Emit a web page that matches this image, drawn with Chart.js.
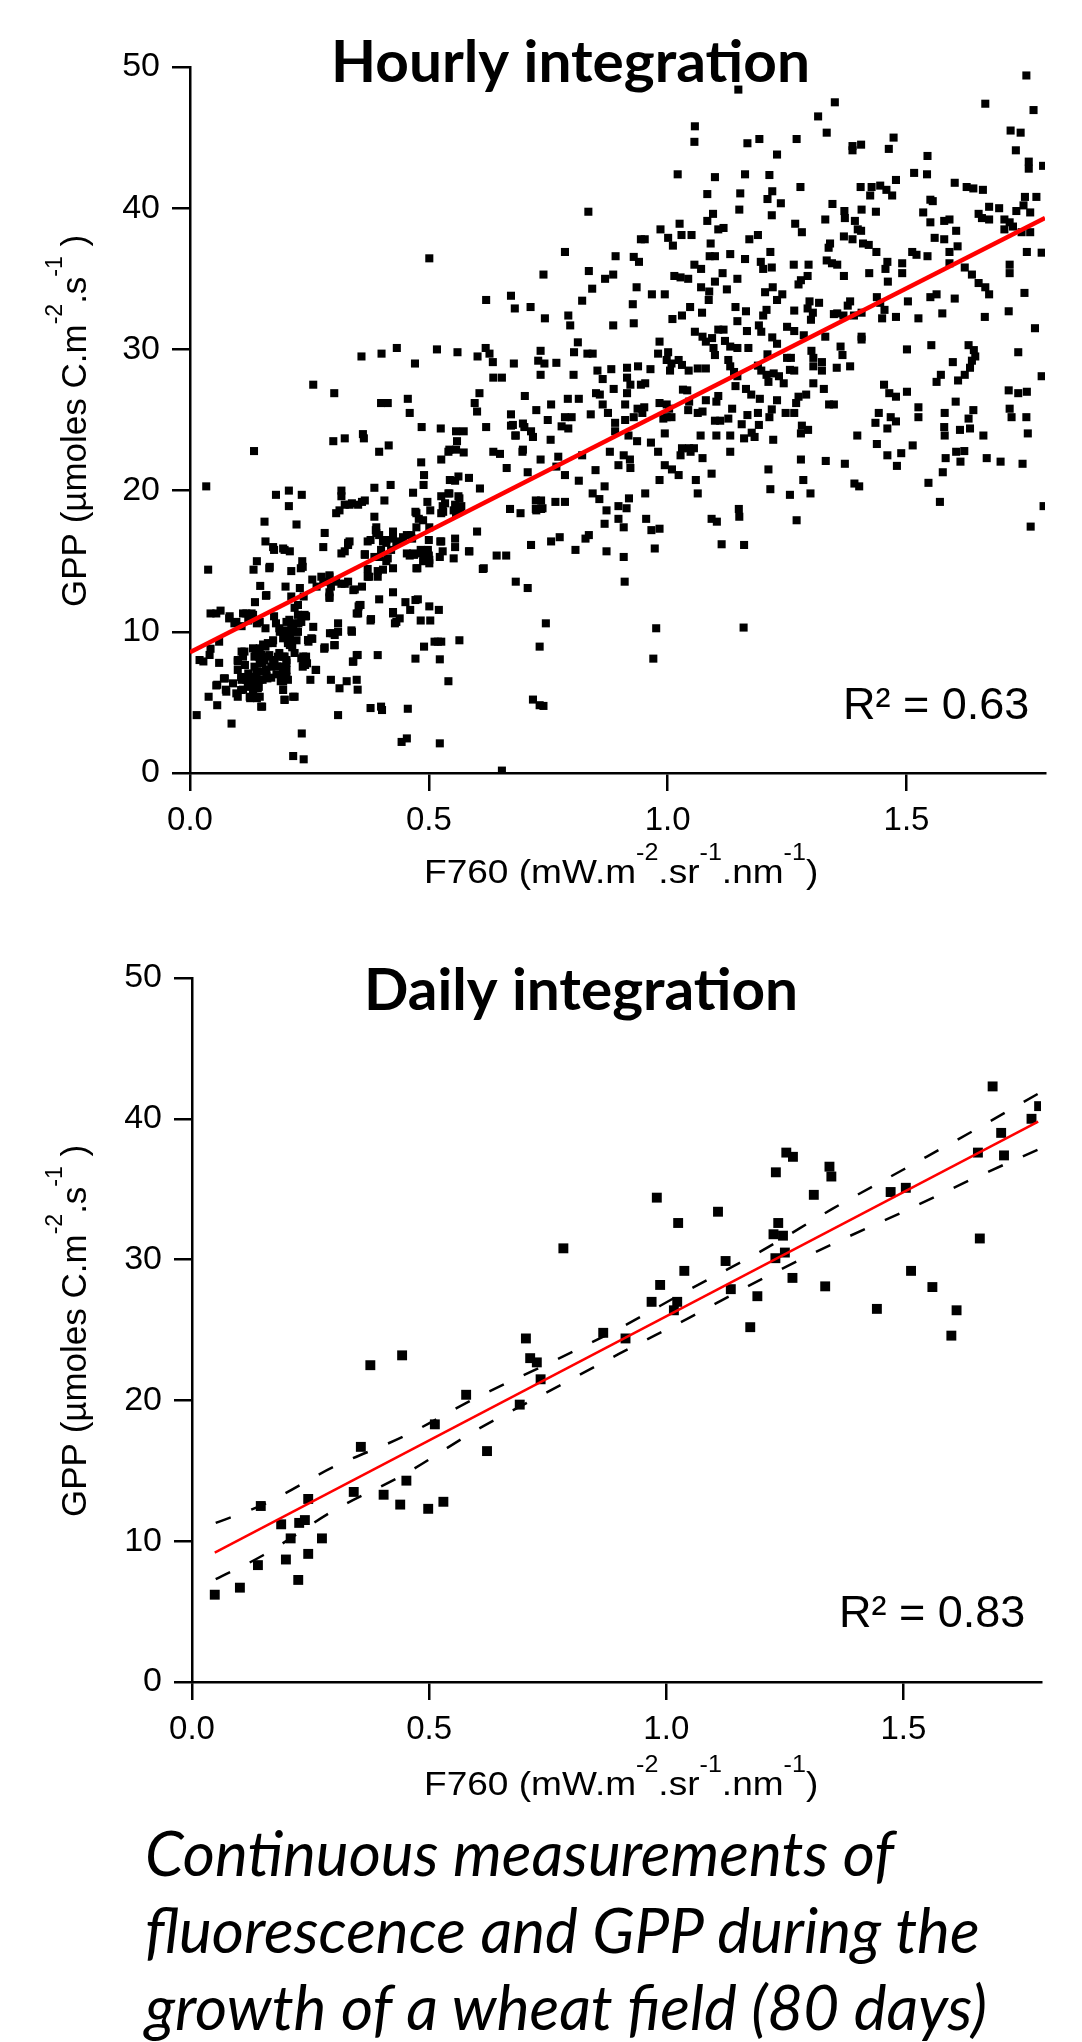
<!DOCTYPE html>
<html>
<head>
<meta charset="utf-8">
<script src="https://cdn.jsdelivr.net/npm/chart.js@4.4.1/dist/chart.umd.min.js"></script>
<style>
  body { margin: 0; background: #fff; width: 1082px; height: 2042px; position: relative; overflow: hidden; }
  canvas { position: absolute; left: 0; }
  #hourly { top: 0; }
  #daily { top: 900px; }
  #caption { position: absolute; left: 145px; top: 1814px; font-family: Lato, sans-serif; font-style: italic;
             font-size: 62px; line-height: 77px; color: #000; white-space: nowrap; }
</style>
</head>
<body>
<canvas id="hourly" width="1082" height="900"></canvas>
<canvas id="daily" width="1082" height="920"></canvas>
<div id="caption">Continuous measurements of<br>fluorescence and GPP during the<br>growth of a wheat field (80 days)</div>
<script>
// axes
const xTickValues = [0, 0.5, 1.0, 1.5];
const yTickValues = [0, 10, 20, 30, 40, 50];
const xMax = 1.79;

// hourly integration : [F760, GPP]
const hourlyPoints = [
  [0.501,36.45],[0.620,33.5],[0.672,33.8],[0.680,32.9],[0.713,33.0],[0.359,29.5],[0.401,29.7],[0.433,30.1],[0.471,29.0],[0.517,30.0],
  [0.560,29.8],[0.602,29.5],[0.619,30.1],[0.627,29.7],[0.634,29.1],[0.678,29.0],[0.729,29.2],[0.258,27.5],[0.302,26.9],[0.400,26.2],
  [0.414,26.2],[0.456,26.5],[0.460,25.5],[0.606,26.9],[0.596,26.2],[0.601,25.6],[0.635,28.0],[0.653,28.0],[0.701,26.7],[0.725,25.7],
  [0.672,25.4],[0.485,24.5],[0.525,24.4],[0.557,24.2],[0.573,24.2],[0.620,24.5],[0.672,24.6],[0.682,23.9],[0.700,24.5],[0.714,24.2],
  [0.300,23.5],[0.324,23.7],[0.362,24.0],[0.364,23.7],[0.416,23.2],[0.559,23.5],[0.134,22.8],
  [1.148,48.4],[1.751,49.4],[1.665,47.4],[1.350,47.5],[1.766,46.95],[1.315,46.5],[1.333,45.35],[1.057,45.8],[1.056,44.7],[1.718,45.5],
  [1.739,45.35],[1.729,44.1],[1.756,43.3],[1.756,42.8],[1.786,43.0],[1.167,44.6],[1.192,44.9],[1.270,44.9],[1.229,43.8],[1.387,44.4],
  [1.405,44.5],[1.387,44.1],[1.473,45.0],[1.463,44.2],[1.544,43.7],[1.516,42.5],[1.543,42.4],[1.601,41.8],[1.626,41.5],[1.640,41.4],
  [1.660,41.3],[1.748,40.8],[1.772,40.8],[1.478,42.0],[1.404,41.5],[1.427,41.5],[1.445,41.6],[1.458,41.3],[1.470,40.9],[1.424,40.9],
  [1.550,40.6],[1.555,40.5],[1.535,39.7],[1.550,39.0],[1.579,39.1],[1.590,39.2],[1.651,39.6],[1.673,40.1],[1.673,39.2],[1.658,39.3],
  [1.694,40.0],[1.705,39.2],[1.716,39.0],[1.723,38.7],[1.705,38.5],[1.741,38.3],[1.759,38.3],[1.730,39.8],[1.745,40.2],[1.759,39.7],
  [1.752,36.9],[1.783,36.85],[1.716,36.0],[1.716,35.4],[1.747,34.0],[1.714,32.7],[1.769,31.5],[1.734,29.8],[1.783,28.1],[1.714,27.1],
  [1.734,26.9],[1.752,27.0],[1.716,25.8],[1.720,25.2],[1.751,25.2],[1.754,24.05],[1.661,23.9],[1.633,24.4],[1.612,24.3],[1.579,24.5],
  [1.580,23.9],[1.640,25.7],[1.630,25.1],[1.603,26.3],[1.580,25.5],[1.525,25.9],[1.525,25.2],[1.513,23.2],[1.438,23.3],[1.397,23.9],
  [1.442,25.5],[1.467,25.2],[1.478,24.9],[1.435,24.8],[1.460,24.4],[1.453,27.5],[1.464,26.9],[1.478,26.65],[1.501,27.0],[1.563,27.7],
  [1.572,28.2],[1.597,29.1],[1.608,27.8],[1.622,28.2],[1.633,28.7],[1.630,30.3],[1.641,29.95],[1.644,29.5],[1.637,29.2],[1.552,30.3],
  [1.501,30.0],[1.525,32.2],[1.575,32.55],[1.664,32.3],[1.601,33.6],[1.550,33.7],[1.563,33.9],[1.503,33.4],[1.637,35.3],[1.622,35.8],
  [1.651,34.7],[1.665,34.4],[1.673,33.9],[1.607,37.3],[1.590,36.9],[1.590,36.1],[1.544,36.6],[1.512,36.9],[1.521,36.7],[1.559,37.9],
  [1.579,37.8],[1.491,36.1],[1.491,35.4],[1.604,38.4],[1.437,36.9],[1.460,36.2],[1.456,35.7],[1.461,34.8],[1.422,35.4],[1.438,33.7],
  [1.445,33.3],[1.454,32.8],[1.449,32.2],[1.478,32.3],[1.398,38.5],[1.409,37.5],[1.421,37.4],[1.387,37.8],[1.405,38.4],[1.369,38.0],
  [1.337,37.2],[1.340,37.5],[1.333,36.3],[1.344,36.1],[1.355,36.0],[1.369,35.2],[1.330,39.2],[1.345,40.3],[1.370,39.8],[1.371,39.3],
  [1.392,39.1],[1.406,39.9],[1.436,39.75],[1.406,32.6],[1.382,33.4],[1.377,33.1],[1.368,32.4],[1.348,32.5],[1.355,32.55],[1.390,32.4],
  [1.406,30.9],[1.406,30.7],[1.362,30.2],[1.366,29.6],[1.382,28.8],[1.354,28.7],[1.297,33.4],[1.293,32.9],[1.317,33.3],[1.304,32.6],
  [1.300,32.1],[1.265,32.75],[1.279,34.9],[1.274,34.6],[1.293,35.2],[1.264,36.0],[1.295,36.0],[1.267,38.9],[1.281,38.3],[1.278,41.5],
  [1.219,41.2],[1.209,40.65],[1.237,40.35],[1.218,39.5],[1.152,41.05],[1.150,39.9],[1.162,42.4],[1.213,42.35],[1.099,42.2],[1.083,41.0],
  [1.095,39.6],[1.083,39.1],[1.106,38.5],[1.117,38.6],[1.021,42.4],[1.025,38.9],[1.029,38.1],[1.050,38.1],[0.985,38.5],[1.001,37.9],
  [1.011,37.35],[0.944,37.8],[0.952,37.8],[0.834,39.75],[0.785,36.9],[0.891,36.6],[0.929,36.55],[0.940,36.2],[1.090,37.5],[1.088,36.6],
  [1.099,36.6],[1.056,36.0],[1.070,35.7],[1.131,36.75],[1.162,36.4],[1.171,37.8],[1.189,38.1],[1.215,36.9],[1.195,36.2],[1.200,35.7],
  [1.218,35.8],[0.740,35.3],[0.835,35.55],[0.869,35.0],[0.886,35.3],[0.842,34.3],[0.821,33.45],[0.935,34.4],[0.927,33.2],[0.967,33.9],
  [0.994,33.9],[1.014,35.2],[1.027,35.1],[1.043,35.0],[1.099,34.8],[1.115,35.4],[1.146,35.0],[1.070,34.4],[1.087,34.1],[1.086,33.5],
  [1.124,34.25],[1.047,33.0],[1.030,32.4],[1.072,32.6],[1.010,32.15],[0.743,32.2],[0.792,32.4],[0.796,31.7],[0.886,31.7],[0.929,31.85],
  [1.204,34.05],[1.220,34.4],[1.240,33.9],[1.229,33.5],[1.142,33.0],[1.164,32.7],[1.207,32.8],[1.200,32.4],[1.146,32.0],[1.166,31.3],
  [1.191,31.7],[1.196,31.25],[1.219,30.85],[1.229,30.4],[1.250,31.6],[1.265,31.3],[1.285,31.0],[1.330,30.9],[0.734,29.9],[0.742,29.0],
  [0.734,28.2],[0.767,29.05],[0.804,29.8],[0.812,30.5],[0.832,29.7],[0.843,29.7],[0.853,28.5],[0.864,27.9],[0.882,28.6],[0.803,28.2],
  [0.887,27.2],[0.915,28.7],[0.938,28.8],[0.915,28.0],[0.922,27.5],[0.915,26.9],[0.944,27.5],[0.953,27.6],[0.964,28.6],[0.983,30.55],
  [0.980,29.7],[1.001,29.8],[0.998,29.25],[1.008,29.0],[1.023,29.25],[1.030,28.9],[1.044,28.5],[1.005,28.5],[1.057,31.25],[1.073,30.9],
  [1.080,30.55],[1.093,30.8],[1.106,31.4],[1.117,31.4],[1.096,30.1],[1.099,29.6],[1.120,30.6],[1.131,30.2],[1.146,30.1],[1.063,28.65],
  [1.080,28.65],[1.127,29.25],[1.131,28.8],[1.139,28.4],[1.146,28.1],[1.169,30.1],[1.209,29.65],[1.189,28.85],[1.196,28.5],[1.207,28.2],
  [1.222,28.3],[1.233,28.1],[1.243,27.6],[1.211,27.7],[1.142,27.4],[1.164,27.2],[1.175,26.8],[1.256,28.55],[1.265,28.5],[1.250,29.4],
  [1.258,29.4],[1.301,29.9],[1.305,28.8],[1.305,29.4],[1.323,29.1],[1.323,28.5],[1.305,27.6],[1.327,27.2],[1.338,26.1],[1.348,26.1],
  [1.274,26.65],[1.290,26.8],[1.269,26.2],[1.229,26.4],[1.218,25.75],[1.193,26.5],[1.189,25.5],[1.167,25.35],[1.135,25.8],[1.247,25.5],
  [1.265,25.5],[1.213,25.2],[1.155,24.7],[1.176,24.1],[1.191,24.65],[1.182,23.8],[1.221,23.6],[1.281,24.6],[1.294,24.3],[1.279,24.05],
  [1.099,24.95],[1.110,24.95],[1.127,25.1],[1.102,23.9],[1.131,23.9],[1.069,23.9],[0.994,24.05],[0.991,25.1],[0.998,25.2],[1.008,25.2],
  [0.983,26.2],[0.998,26.1],[1.003,25.8],[1.032,27.15],[1.041,27.1],[1.045,26.3],[1.043,25.7],[1.080,26.4],[1.106,26.7],[1.102,26.3],
  [1.063,25.5],[1.073,25.6],[0.951,25.9],[0.947,25.5],[0.929,25.2],[0.911,25.0],[0.890,24.8],[0.890,24.2],[0.911,26.1],[0.937,25.8],
  [0.875,25.5],[0.864,26.1],[0.839,25.4],[0.858,26.8],[0.850,26.9],[0.814,26.5],[0.791,26.5],[0.756,26.1],[0.749,25.0],[0.785,25.2],
  [0.799,25.2],[0.778,24.55],[0.792,24.4],[0.755,23.6],[0.918,23.9],[0.936,23.5],[0.965,23.4],[1.030,23.0],[1.045,23.0],[1.160,23.7],
  [1.055,23.0],
  [0.396,22.75],[0.484,22.0],[0.526,22.2],[0.541,22.75],[0.573,22.7],[0.635,22.75],[0.649,22.6],[0.696,22.75],[0.034,20.3],[0.207,20.0],
  [0.180,19.7],[0.234,19.7],[0.207,18.9],[0.156,17.8],[0.223,17.6],[0.317,20.0],[0.317,19.6],[0.324,19.0],[0.313,18.6],[0.306,18.4],
  [0.339,19.1],[0.360,19.2],[0.386,20.2],[0.420,20.4],[0.407,19.3],[0.386,18.15],[0.490,21.1],[0.489,20.4],[0.467,19.85],[0.472,18.5],
  [0.479,18.0],[0.497,19.2],[0.503,18.6],[0.526,19.6],[0.541,19.8],[0.534,19.1],[0.530,18.5],[0.544,20.75],[0.562,21.0],[0.584,20.9],
  [0.555,20.7],[0.562,19.6],[0.566,18.6],[0.555,19.0],[0.607,20.15],[0.663,21.6],[0.707,21.3],[0.670,18.7],[0.692,18.4],[0.725,18.6],
  [0.601,17.1],[0.585,15.7],[0.613,14.45],[0.642,15.4],[0.662,15.4],[0.682,13.55],[0.707,13.1],[0.714,16.15],[0.282,17.0],[0.279,16.0],
  [0.331,16.15],[0.324,15.7],[0.366,15.45],[0.389,17.2],[0.396,16.85],[0.378,16.5],[0.411,16.5],[0.425,17.1],[0.440,16.4],[0.454,16.85],
  [0.465,16.6],[0.400,15.8],[0.414,15.2],[0.425,14.5],[0.454,15.55],[0.469,15.45],[0.483,15.8],[0.497,15.55],[0.501,15.1],[0.490,15.1],
  [0.476,14.5],[0.526,16.4],[0.523,15.3],[0.552,15.2],[0.555,16.6],[0.555,16.0],[0.552,18.6],[0.158,16.4],[0.176,15.8],[0.198,15.8],
  [0.209,15.7],[0.140,15.0],[0.133,14.4],[0.166,14.5],[0.212,14.3],[0.235,15.0],[0.232,14.5],[0.147,13.25],[0.159,12.55],[0.136,12.1],
  [0.200,13.2],[0.212,12.5],[0.230,13.1],[0.238,12.5],[0.256,13.7],[0.265,13.2],[0.279,13.55],[0.292,13.9],[0.295,13.2],[0.292,12.5],
  [0.306,13.55],[0.324,13.4],[0.342,12.95],[0.360,13.2],[0.375,13.9],[0.393,13.9],[0.396,12.3],[0.425,12.8],[0.451,12.1],[0.472,12.25],
  [0.461,11.55],[0.425,11.3],[0.429,10.6],[0.353,11.8],[0.349,11.3],[0.357,11.9],[0.378,10.8],[0.483,10.8],[0.503,10.8],[0.501,11.8],
  [0.521,11.55],[0.043,11.3],[0.064,11.5],[0.082,10.95],[0.093,10.6],[0.111,11.3],[0.129,11.3],[0.122,10.8],[0.108,10.4],[0.140,10.6],
  [0.158,10.25],[0.176,11.1],[0.180,10.6],[0.187,10.25],[0.195,10.0],[0.202,10.7],[0.212,10.5],[0.227,10.6],[0.223,10.0],[0.241,11.1],
  [0.198,9.65],[0.209,9.5],[0.223,9.4],[0.205,9.2],[0.214,8.9],[0.061,9.3],[0.043,8.8],[0.028,7.9],[0.061,7.8],[0.108,8.6],
  [0.100,7.9],[0.115,7.65],[0.100,7.3],[0.122,7.05],[0.108,6.6],[0.137,8.7],[0.144,8.25],[0.152,7.8],[0.159,7.3],[0.140,7.2],
  [0.133,6.6],[0.152,6.6],[0.162,6.7],[0.144,6.1],[0.166,8.35],[0.177,7.8],[0.187,8.5],[0.183,7.55],[0.198,8.25],[0.202,7.8],
  [0.195,7.2],[0.205,6.6],[0.190,6.5],[0.158,8.95],[0.173,9.2],[0.219,8.5],[0.237,8.0],[0.241,7.65],[0.237,8.25],[0.248,9.3],
  [0.256,9.5],[0.258,10.35],[0.263,7.3],[0.252,6.6],[0.071,6.7],[0.075,5.9],[0.057,6.25],[0.039,5.4],[0.057,4.8],[0.100,5.4],
  [0.111,5.9],[0.126,5.3],[0.140,5.3],[0.151,4.7],[0.198,5.2],[0.216,5.4],[0.014,4.1],[0.087,3.5],[0.295,6.6],[0.313,6.0],
  [0.328,6.5],[0.349,6.6],[0.351,5.9],[0.310,4.1],[0.281,8.8],[0.302,9.05],[0.299,9.9],[0.310,10.6],[0.339,10.0],[0.342,7.9],
  [0.349,8.35],[0.393,8.35],[0.378,4.6],[0.400,4.7],[0.456,4.55],[0.443,2.2],[0.454,2.45],[0.234,2.8],[0.216,1.2],[0.238,0.97],
  [0.523,2.1],[0.653,0.17],[0.541,6.5],[0.490,8.95],[0.512,9.3],[0.526,9.3],[0.523,8.05],[0.472,8.1],[0.564,9.4],[0.732,8.95],
  [0.718,5.2],[0.732,4.8],
  [0.734,22.2],[0.771,22.4],[0.767,21.7],[0.821,22.5],[0.879,22.75],[0.908,22.5],[0.921,22.2],[0.897,21.8],[0.922,21.6],[0.980,22.75],
  [1.027,22.5],[1.048,22.75],[1.073,22.3],[1.131,22.75],[0.785,21.1],[0.814,20.7],[0.849,21.45],[0.868,20.3],[0.843,19.8],[0.857,19.4],
  [0.872,18.6],[0.897,18.9],[0.914,18.75],[0.919,19.45],[0.897,18.0],[0.908,17.4],[0.868,17.65],[0.738,18.75],[0.765,19.2],[0.785,19.2],
  [0.756,16.4],[0.774,16.7],[0.807,15.8],[0.828,16.6],[0.835,16.85],[0.872,15.7],[0.908,15.3],[0.910,13.55],[0.953,19.8],[0.955,18.0],
  [0.966,17.2],[0.983,17.3],[0.973,15.9],[0.994,21.8],[1.009,21.5],[1.023,21.1],[0.983,20.75],[1.059,20.75],[1.063,19.8],[1.092,21.2],
  [1.092,18.0],[1.103,17.8],[1.113,16.2],[1.160,16.15],[1.149,18.7],[1.150,18.15],[1.211,21.5],[1.215,20.1],[1.256,19.7],[1.279,22.2],
  [1.284,20.75],[1.299,19.8],[1.270,17.9],[1.331,22.1],[1.371,21.9],[1.391,20.5],[1.401,20.3],[1.460,22.5],[1.489,22.65],[1.480,21.75],
  [1.546,20.55],[1.576,21.3],[1.570,19.2],[1.582,22.3],[1.604,22.75],[1.613,22.05],[1.621,22.8],[1.668,22.3],[1.697,22.05],[1.743,21.9],
  [1.787,18.9],[1.760,17.45],[0.745,10.6],[0.740,4.75],[0.976,10.25],[0.970,8.1],[1.159,10.3],
  [0.038,14.4],[0.275,13.9],[0.292,14.0],[0.292,12.8],[0.292,12.4],[0.317,13.4],[0.331,13.55],[0.345,13.0],[0.372,13.9],[0.404,14.4],
  [0.160,12.6],[0.055,11.3],[0.083,11.1],[0.097,10.7],[0.118,11.3],[0.132,11.2],[0.146,10.7],[0.208,10.85],[0.222,10.6],[0.233,10.7],
  [0.188,10.0],[0.202,10.1],[0.209,9.77],[0.216,10.25],[0.226,10.0],[0.195,9.54],[0.205,9.43],[0.209,9.06],[0.226,11.2],[0.240,11.2],
  [0.219,11.7],[0.226,11.9],[0.243,11.1],[0.247,9.42],[0.254,9.54],[0.303,9.77],[0.293,9.9],[0.310,10.0],[0.303,9.06],[0.338,10.1],
  [0.282,8.9],[0.351,8.36],[0.341,7.88],[0.264,7.3],[0.379,10.9],[0.425,11.4],[0.432,10.7],[0.439,10.95],[0.355,11.9],[0.352,11.3],
  [0.477,12.3],[0.519,9.3],[0.402,4.46],[0.020,8.0],[0.041,8.36],[0.073,6.7],[0.055,6.2],[0.076,5.76],[0.090,6.35],[0.100,8.0],
  [0.111,8.24],[0.114,8.6],[0.107,6.8],[0.118,6.6],[0.125,6.8],[0.097,5.64],[0.107,5.88],[0.121,6.1],[0.132,5.88],[0.125,5.4],
  [0.135,5.4],[0.146,5.4],[0.149,4.7],[0.132,8.83],[0.146,8.83],[0.135,8.24],[0.149,8.36],[0.156,8.0],[0.163,8.24],[0.146,7.77],
  [0.135,7.53],[0.139,7.06],[0.149,7.18],[0.160,7.3],[0.170,7.53],[0.160,6.87],[0.170,6.75],[0.181,6.99],[0.146,6.6],[0.132,6.25],
  [0.142,6.0],[0.174,8.0],[0.184,8.24],[0.195,8.24],[0.202,8.0],[0.195,7.53],[0.202,7.3],[0.191,6.94],[0.195,6.47],[0.202,6.82],
  [0.153,9.1],[0.163,9.2],[0.174,9.4],[0.195,5.88],[0.198,5.17],[0.219,5.4],[0.233,8.12],[0.243,8.24],[0.236,7.53],[0.245,7.77],
  [0.676,24.65],[0.697,24.75],[0.718,23.8],[0.681,23.9],[0.543,22.9],[0.557,22.9],[0.697,22.9],[0.724,18.7],[0.735,18.7],[0.174,16.0],
  [0.195,15.9],[0.167,14.6],[0.236,14.6],[0.334,19.0],[0.352,19.0],[0.366,19.3],[0.317,15.55],[0.331,16.3],[0.334,16.4],[0.366,15.5],
  [0.386,15.3],[0.397,15.3],[0.372,16.4],[0.390,17.0],[0.404,16.4],[0.425,16.6],[0.446,16.7],[0.463,16.85],[0.390,17.4],[0.411,16.3],
  [0.421,15.8],[0.432,16.3],[0.372,14.45],[0.393,14.3],[0.411,15.0],[0.474,18.4],[0.474,17.4],[0.488,17.9],[0.501,17.4],[0.500,16.5],
  [0.498,15.8],[0.529,18.9],[0.543,19.8],[0.564,19.45],[0.568,18.9],[0.557,18.4],[0.526,18.4],[0.524,16.4],[0.529,15.7],[0.460,15.4],
  [0.467,15.55],[0.484,15.55],[0.488,15.0],[0.501,14.85],[0.500,15.4],[0.584,15.7],[0.615,14.5],[0.724,19.3],[0.735,19.3],[0.474,14.5]
];
const hourlyFitX = [0, 1.79];
const hourlyFitY = [8.55, 39.3];

// daily integration : [F760, GPP]
const dailyPoints = [
  [0.376,22.5],[0.443,23.2],[0.578,20.4],[0.512,18.3],[0.356,16.7],[0.691,19.7],[0.622,16.4],[0.452,14.3],[0.341,13.5],[0.404,13.3],
  [0.439,12.6],[0.498,12.3],[0.530,12.8],[0.245,13.0],[0.145,12.5],[0.188,11.2],[0.226,11.3],[0.238,11.5],[0.208,10.2],[0.274,10.2],
  [0.198,8.7],[0.245,9.1],[0.139,8.3],[0.224,7.25],[0.101,6.7],[0.048,6.2],[0.704,24.4],[0.713,23.0],[0.727,22.7],[0.735,21.5],
  [1.688,42.3],[1.786,40.9],[1.770,40.0],[1.706,39.0],[1.712,37.4],[1.657,37.6],[1.253,37.6],[1.267,37.3],[1.231,36.2],[1.344,36.6],
  [1.348,35.9],[1.311,34.6],[1.473,34.8],[1.505,35.1],[0.980,34.4],[1.109,33.4],[1.025,32.6],[1.236,32.6],[1.226,31.8],[1.246,31.7],
  [0.783,30.8],[1.661,31.5],[1.125,29.9],[1.250,30.5],[1.230,30.1],[1.038,29.2],[1.266,28.7],[1.516,29.2],[0.987,28.2],[1.335,28.1],
  [1.561,28.05],[1.136,27.9],[0.969,27.0],[1.023,27.0],[1.016,26.4],[1.192,27.4],[1.444,26.5],[1.612,26.4],[1.177,25.2],[1.601,24.6],
  [0.867,24.8],[0.914,24.4]
];
const dailyFitX = [0.048, 1.784];
const dailyFitY = [9.19, 39.8];
const dailyBandX = [0.05, 0.15, 0.3, 0.45, 0.6, 0.75, 0.9, 1.05, 1.2, 1.35, 1.5, 1.65, 1.79];
const dailyBandUpper = [11.3, 12.6, 15.3, 17.5, 20.2, 22.6, 25.1, 27.9, 30.6, 33.6, 36.4, 39.2, 41.9];
const dailyBandLower = [7.3, 9.0, 12.2, 14.8, 17.9, 20.6, 23.3, 25.9, 28.6, 31.1, 33.4, 35.8, 37.9];

Chart.defaults.font.family = '"Liberation Sans", Arial, sans-serif';
Chart.defaults.color = '#000';

function xy(xs, ys) { return xs.map((x, i) => ({ x: x, y: ys[i] })); }

// text made of runs, some of them raised as superscripts
function drawRuns(ctx, runs, x, y, size, supSize, rise, rotate, stretch) {
  ctx.save();
  ctx.translate(x, y);
  if (rotate) ctx.rotate(-Math.PI / 2);
  ctx.scale(stretch, 1);
  ctx.fillStyle = '#000';
  ctx.textAlign = 'left';
  ctx.textBaseline = 'alphabetic';
  let cx = 0;
  runs.forEach(r => {
    ctx.font = (r[1] ? supSize : size) + 'px "Liberation Sans", Arial, sans-serif';
    ctx.fillText(r[0], cx, r[1] ? -rise : 0);
    cx += ctx.measureText(r[0]).width;
  });
  ctx.restore();
}

const xTitleRuns = [['F760 (mW.m', 0], ['-2', 1], ['.sr', 0], ['-1', 1], ['.nm', 0], ['-1', 1], [')', 0]];
const yTitleRuns = [['GPP (\u00b5moles C.m', 0], ['-2', 1], ['.s', 0], ['-1', 1], [' )', 0]];

const textLayer = {
  id: 'textLayer',
  afterDraw(chart) {
    const o = chart.options.plugins.textLayer;
    const ctx = chart.ctx;
    // bold title, squeezed to the reference width
    ctx.save();
    ctx.font = 'bold 58px Lato, "Open Sans", sans-serif';
    ctx.fillStyle = '#000';
    ctx.textBaseline = 'alphabetic';
    const w = ctx.measureText(o.title).width;
    ctx.translate(o.titleX, o.titleY);
    ctx.scale(o.titleW / w, 1);
    ctx.fillText(o.title, 0, 0);
    ctx.restore();
    // R²
    ctx.save();
    ctx.font = '45px "Liberation Sans", Arial, sans-serif';
    ctx.fillStyle = '#000';
    ctx.fillText(o.r2, o.r2X, o.r2Y);
    ctx.restore();
    drawRuns(ctx, xTitleRuns, o.xTitleX, o.xTitleY, 34, 23, 23, false, 1.09);
    drawRuns(ctx, yTitleRuns, o.yTitleX, o.yTitleY, 35, 23, 24, true, 1);
  }
};

function axes(area, canvasH) {
  return {
    x: {
      type: 'linear', min: 0, max: xMax,
      afterBuildTicks: s => { s.ticks = xTickValues.map(v => ({ value: v })); },
      afterFit: s => { s.height = canvasH - area.bottom; },
      grid: { display: true, drawOnChartArea: false, drawTicks: true, tickLength: 18, color: '#000', lineWidth: 2.5 },
      border: { display: true, color: '#000', width: 2.5 },
      ticks: { color: '#000', font: { size: 33 }, padding: 10, maxRotation: 0, autoSkip: false,
               callback: v => Number(v).toFixed(1) }
    },
    y: {
      type: 'linear', min: 0, max: 50,
      afterBuildTicks: s => { s.ticks = yTickValues.map(v => ({ value: v })); },
      afterFit: s => { s.width = area.left; },
      grid: { display: true, drawOnChartArea: false, drawTicks: true, tickLength: 18, color: '#000', lineWidth: 2.5 },
      border: { display: true, color: '#000', width: 2.5 },
      ticks: { color: '#000', font: { size: 34 }, padding: 12, autoSkip: false, callback: v => String(v) }
    }
  };
}

// hourly chart
const hArea = { left: 190, right: 1045, top: 67, bottom: 773 };
new Chart(document.getElementById('hourly'), {
  type: 'scatter',
  data: {
    datasets: [
      { data: xy(hourlyFitX, hourlyFitY), showLine: true, borderColor: '#ff0000', borderWidth: 4.5,
        pointRadius: 0, fill: false },
      { data: hourlyPoints.map(p => ({ x: p[0], y: p[1] })), pointStyle: 'rect', pointRadius: 5.7,
        backgroundColor: '#000', borderWidth: 0, showLine: false }
    ]
  },
  options: {
    responsive: false, animation: false, devicePixelRatio: 1,
    layout: { padding: { left: 0, right: 1082 - hArea.right, top: hArea.top, bottom: 0 } },
    scales: axes(hArea, 900),
    plugins: {
      legend: { display: false }, tooltip: { enabled: false }, title: { display: false },
      textLayer: { title: 'Hourly integration', titleX: 331, titleY: 82, titleW: 479,
                   r2: 'R\u00b2 = 0.63', r2X: 843, r2Y: 719,
                   xTitleX: 424, xTitleY: 883, yTitleX: 86, yTitleY: 607 }
    }
  },
  plugins: [textLayer]
});

// daily chart
const dArea = { left: 192, right: 1041, top: 78, bottom: 782 };
new Chart(document.getElementById('daily'), {
  type: 'scatter',
  data: {
    datasets: [
      { data: xy(dailyFitX, dailyFitY), showLine: true, borderColor: '#ff0000', borderWidth: 2.5,
        pointRadius: 0, fill: false },
      { data: xy(dailyBandX, dailyBandUpper), showLine: true, borderColor: '#000', borderWidth: 2.5,
        borderDash: [16, 22], pointRadius: 0, fill: false, cubicInterpolationMode: 'monotone' },
      { data: xy(dailyBandX, dailyBandLower), showLine: true, borderColor: '#000', borderWidth: 2.5,
        borderDash: [16, 22], pointRadius: 0, fill: false, cubicInterpolationMode: 'monotone' },
      { data: dailyPoints.map(p => ({ x: p[0], y: p[1] })), pointStyle: 'rect', pointRadius: 7,
        backgroundColor: '#000', borderWidth: 0, showLine: false }
    ]
  },
  options: {
    responsive: false, animation: false, devicePixelRatio: 1,
    layout: { padding: { left: 0, right: 1082 - dArea.right, top: dArea.top, bottom: 0 } },
    scales: axes(dArea, 920),
    plugins: {
      legend: { display: false }, tooltip: { enabled: false }, title: { display: false },
      textLayer: { title: 'Daily integration', titleX: 364, titleY: 110, titleW: 434,
                   r2: 'R\u00b2 = 0.83', r2X: 839, r2Y: 727,
                   xTitleX: 424, xTitleY: 895, yTitleX: 86, yTitleY: 617 }
    }
  },
  plugins: [textLayer]
});
</script>
</body>
</html>
